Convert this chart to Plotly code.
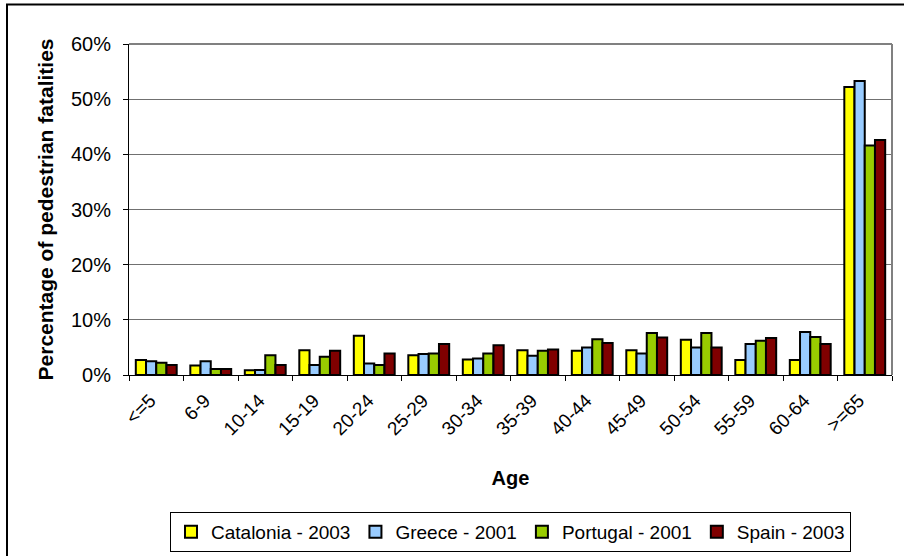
import plotly.graph_objects as go

# Age groups and share of pedestrian fatalities (%) per region/year
age_groups = ["<=5", "6-9", "10-14", "15-19", "20-24", "25-29", "30-34",
              "35-39", "40-44", "45-49", "50-54", "55-59", "60-64", ">=65"]
catalonia_2003 = [2.7, 1.7, 0.85, 4.5, 7.1, 3.6, 2.8, 4.5, 4.4, 4.5, 6.4, 2.7, 2.7, 52.2]
greece_2001 = [2.5, 2.5, 0.9, 1.8, 2.1, 3.8, 3.0, 3.5, 5.0, 3.9, 5.0, 5.6, 7.8, 53.3]
portugal_2001 = [2.2, 1.1, 3.6, 3.3, 1.8, 3.9, 3.9, 4.4, 6.5, 7.6, 7.6, 6.2, 6.9, 41.6]
spain_2003 = [1.8, 1.1, 1.8, 4.4, 3.9, 5.6, 5.4, 4.6, 5.8, 6.8, 5.0, 6.7, 5.6, 42.6]

series = [
    ("Catalonia - 2003", catalonia_2003, "#FFFF00"),
    ("Greece - 2001", greece_2001, "#99CCFF"),
    ("Portugal - 2001", portugal_2001, "#99CC00"),
    ("Spain - 2003", spain_2003, "#800000"),
]

FONT = "Liberation Sans, Arial, sans-serif"

fig = go.Figure()
for name, vals, color in series:
    fig.add_trace(go.Bar(
        x=age_groups, y=vals, name=name,
        marker=dict(color=color, line=dict(color="black", width=2)),
    ))

W, H = 904, 556
ml, mr, mt, mb = 129, 12, 44, 181
pw, ph = W - ml - mr, H - mt - mb


def px_x(x):
    return (x - ml) / pw


def px_y(y):
    return (H - mb - y) / ph


fig.update_layout(
    width=W, height=H,
    margin=dict(l=ml, r=mr, t=mt, b=mb, pad=0, autoexpand=False),
    paper_bgcolor="white", plot_bgcolor="white",
    font=dict(family=FONT, size=19, color="black"),
    barmode="group", bargap=0.25, bargroupgap=0,
    showlegend=True,
    legend=dict(
        orientation="h", x=0.5, xanchor="center",
        y=px_y(512), yanchor="top",
        bordercolor="black", borderwidth=1, bgcolor="white",
        font=dict(size=19),
    ),
    xaxis=dict(
        type="category", tickangle=-45, tickson="boundaries",
        ticks="outside", ticklen=5, tickcolor="black",
        ticklabelstandoff=6, ticklabelshift=-6,
        showline=True, linecolor="black", linewidth=1,
        showgrid=False, automargin=False,
        title=dict(text="<b>Age</b>", font=dict(size=20), standoff=32),
    ),
    yaxis=dict(
        range=[0, 60], dtick=10, ticksuffix="%",
        ticks="outside", ticklen=5, tickcolor="black",
        ticklabelstandoff=8, tickfont=dict(size=20),
        showline=True, linecolor="black", linewidth=1,
        showgrid=True, gridcolor="#707070", gridwidth=1,
        zeroline=False, automargin=False,
        title=dict(text="<b>Percentage of pedestrian fatalities</b>",
                   font=dict(size=21), standoff=11),
    ),
    shapes=[
        # gray plot-area border on top and right
        dict(type="line", xref="paper", yref="paper", x0=0, x1=1, y0=1, y1=1,
             line=dict(color="#808080", width=2)),
        dict(type="line", xref="paper", yref="paper", x0=1, x1=1, y0=0, y1=1,
             line=dict(color="#808080", width=2)),
        # outer chart frame
        dict(type="rect", xref="paper", yref="paper",
             x0=px_x(7), x1=px_x(908), y0=px_y(560), y1=px_y(4.5),
             line=dict(color="black", width=2), layer="below"),
    ],
)

fig.write_html("out.html")
